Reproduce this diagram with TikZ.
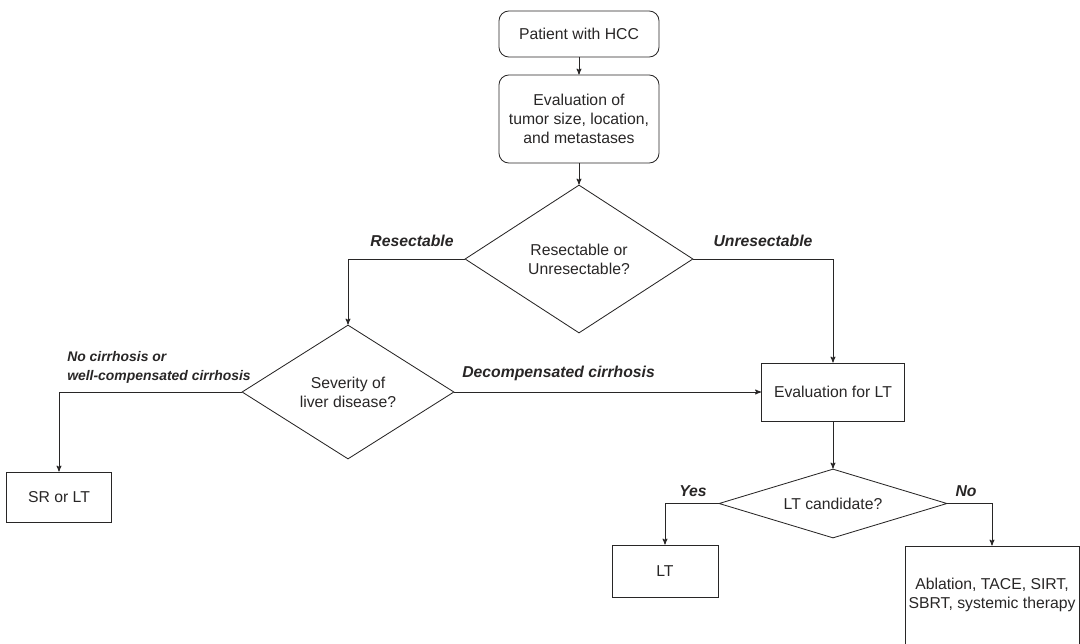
\documentclass[tikz,border=0pt]{standalone}
\usepackage{fontspec}
\setmainfont{Liberation Sans}
\usepackage{tikz}
\usetikzlibrary{arrows}
\usetikzlibrary{shapes.geometric}
\definecolor{ink}{RGB}{40,38,38}
\tikzset{box/.style={draw=ink, text=ink, line width=.6pt, inner sep=1pt, align=center, font=\fontsize{11.2}{13.6}\selectfont}}
\tikzset{rbox/.style={box, rounded corners=7pt}}
\tikzset{decision/.style={box, diamond, aspect=2, inner sep=0pt}}
\tikzset{lbl/.style={text=ink, inner sep=0pt, font=\fontsize{11.2}{13.6}\selectfont\bfseries\itshape}}

\begin{document}
\begin{tikzpicture} [x=.025cm, y=-.025cm]
\useasboundingbox (0,0) rectangle (1080,644);
\node[rbox, minimum width=4cm, minimum height=1.15cm] (patient) at (579,34) {Patient with HCC};
\node[rbox, minimum width=4cm, minimum height=2.2cm] (evaltumor) at (579,119) {Evaluation of\\tumor size, location,\\and metastases};
\node[decision, minimum width=5.7cm, minimum height=3.7cm] (resect) at (579,259) {Resectable or\\Unresectable?};
\node[decision, minimum width=5.3cm, minimum height=3.35cm] (severity) at (348,392) {Severity of\\liver disease?};
\node[box, minimum width=2.625cm, minimum height=1.25cm] (srlt) at (59,497) {SR or LT};
\node[box, minimum width=3.575cm, minimum height=1.45cm] (evallt) at (833,392) {Evaluation for LT};
\node[decision, minimum width=5.7cm, minimum height=1.725cm] (candidate) at (833,503.5) {LT candidate?};
\node[box, minimum width=2.65cm, minimum height=1.3cm] (lt) at (665,571) {LT};
\node[box, minimum width=4.35cm, minimum height=2.45cm] (ablation) at (992,595) {Ablation, TACE, SIRT,\\SBRT, systemic therapy};

\node[lbl] (lblres) at (412,241) {Resectable};
\node[lbl] (lblunres) at (763,241) {Unresectable};
\node[lbl, anchor=west, align=left, font=\fontsize{9.9}{13.6}\selectfont\bfseries\itshape] (lblnocirr) at (67,367) {No cirrhosis or\\well-compensated cirrhosis};
\node[lbl, anchor=west] (lbldecomp) at (462,373) {Decompensated cirrhosis};
\node[lbl] (lblyes) at (693,491) {Yes};
\node[lbl] (lblno) at (966,491) {No};

\draw[ink, line width=.6pt, ->, >=stealth'] (patient)--(evaltumor);
\draw[ink, line width=.6pt, ->, >=stealth'] (evaltumor)--(resect);
\draw[ink, line width=.6pt, ->, >=stealth'] (resect.west) -| (severity.north);
\draw[ink, line width=.6pt, ->, >=stealth'] (resect.east) -| (evallt.north);
\draw[ink, line width=.6pt, ->, >=stealth'] (severity.west) -| (srlt.north);
\draw[ink, line width=.6pt, ->, >=stealth'] (severity.east) -- (evallt.west);
\draw[ink, line width=.6pt, ->, >=stealth'] (evallt)--(candidate);
\draw[ink, line width=.6pt, ->, >=stealth'] (candidate.west) -| (lt.north);
\draw[ink, line width=.6pt, ->, >=stealth'] (candidate.east) -| (ablation.north);
\end{tikzpicture}
\end{document}
